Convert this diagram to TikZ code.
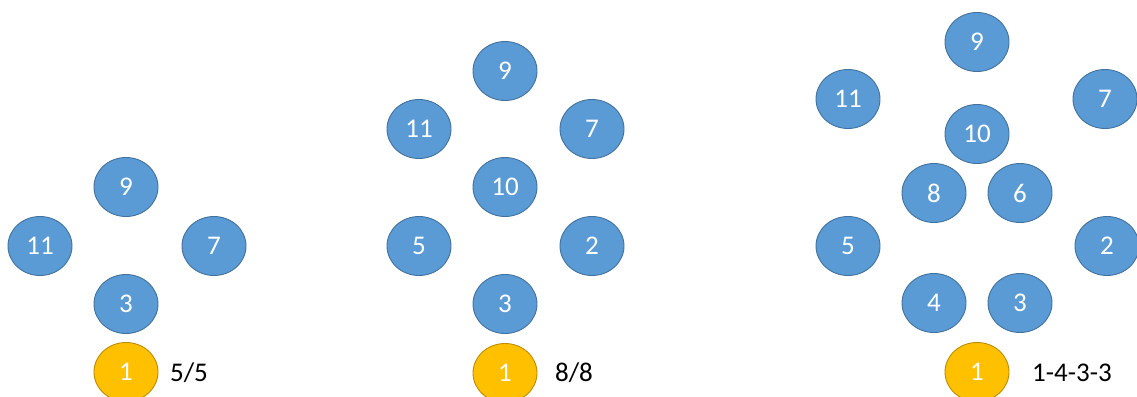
\documentclass[tikz,border=0pt]{standalone}
\usepackage{fontspec}
\setmainfont{Carlito}
\usetikzlibrary{shapes.geometric}
\definecolor{bluefill}{HTML}{5B9BD5}
\definecolor{blueline}{HTML}{41719C}
\definecolor{goldfill}{HTML}{FFC000}
\definecolor{goldline}{HTML}{BC8C00}
\tikzset{
  ball/.style={ellipse, minimum width=64pt, minimum height=59pt, inner sep=0pt,
    fill=bluefill, draw=blueline, line width=0.9pt, text=white, font=\fontsize{27}{27}\selectfont},
  start/.style={ball, fill=goldfill, draw=goldline},
  lbl/.style={font=\fontsize{27}{27}\selectfont, text=black, inner sep=0pt}
}
\begin{document}
\begin{tikzpicture}[x=1pt,y=-1pt]
\useasboundingbox (0,0) rectangle (1137,396);
% panel 1
\node[ball] (a9) at (126,187) {9};
\node[ball] (a11) at (40,246) {11};
\node[ball] (a7) at (214,246) {7};
\node[ball] (a3) at (126,304) {3};
\node[start] (a1) at (126,372) {1};
\node[lbl] (at) at (189,373) {5/5};
% panel 2
\node[ball] (b9) at (505,71) {9};
\node[ball] (b11) at (419,129) {11};
\node[ball] (b7) at (592,129) {7};
\node[ball] (b10) at (505,187) {10};
\node[ball] (b5) at (419,246) {5};
\node[ball] (b2) at (592,246) {2};
\node[ball] (b3) at (505,304) {3};
\node[start] (b1) at (505,373) {1};
\node[lbl] (bt) at (574,373) {8/8};
% panel 3
\node[ball] (c9) at (977,42) {9};
\node[ball] (c11) at (848,99) {11};
\node[ball] (c7) at (1105,99) {7};
\node[ball] (c10) at (977,134) {10};
\node[ball] (c8) at (934,193) {8};
\node[ball] (c6) at (1020,193) {6};
\node[ball] (c5) at (848,246) {5};
\node[ball] (c2) at (1107,246) {2};
\node[ball] (c4) at (934,303) {4};
\node[ball] (c3) at (1020,303) {3};
\node[start] (c1) at (977,372) {1};
\node[lbl] (ct) at (1072,373) {1-4-3-3};
\end{tikzpicture}
\end{document}
